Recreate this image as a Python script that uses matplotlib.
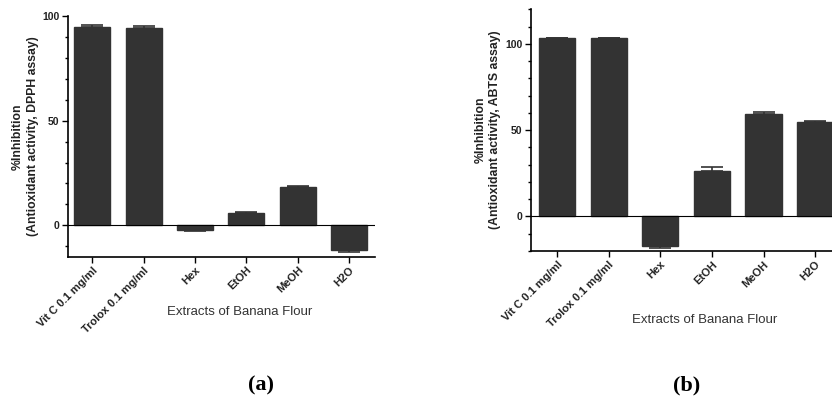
import matplotlib.pyplot as plt
import numpy as np

plt.rcParams['font.family'] = ['Liberation Sans', 'DejaVu Sans']

# Data
categories = ['Vit C 0.1 mg/ml', 'Trolox 0.1 mg/ml', 'Hex', 'EtOH', 'MeOH', 'H2O']
dpph_values = [94.9, 94.3, -2.1, 5.9, 18.2, -12.0]
dpph_err = [0.8, 0.8, 0.4, 0.3, 0.8, 0.7]
abts_values = [103.3, 103.3, -17.2, 26.4, 59.1, 54.9]
abts_err = [0.3, 0.3, 1.1, 2.3, 1.2, 0.3]
dpph_ylabel = '%Inhibition\n(Antioxidant activity, DPPH assay)'
abts_ylabel = '%Inhibition\n(Antioxidant activity, ABTS assay)'
xlabel = 'Extracts of Banana Flour'

bar_color = '#333333'

fig = plt.figure(figsize=(8.32, 3.99), dpi=100)
ax_a = fig.add_axes([68 / 832, 1 - 256.7 / 399, 307 / 832, 240.7 / 399])
ax_b = fig.add_axes([530.7 / 832, 1 - 251 / 399, 310.3 / 832, 241.7 / 399])


def draw_panel(ax, values, errs, ylabel, ylim, xlim, yticks):
    x = np.arange(len(categories))
    ax.bar(x, values, width=0.7, color=bar_color, edgecolor=bar_color, zorder=2)
    # error bars drawn only away from zero, as in Prism
    for xi, v, e in zip(x, values, errs):
        yerr = [[0], [e]] if v >= 0 else [[e], [0]]
        ax.errorbar(xi, v, yerr=yerr, fmt='none', ecolor=bar_color, elinewidth=1.2,
                    capsize=8, capthick=1.2, zorder=3)
    ax.axhline(0, color='black', lw=0.8, zorder=4)
    ax.set_xlim(*xlim)
    ax.set_ylim(*ylim)
    ax.set_yticks(yticks)
    ax.set_yticks(np.arange(ylim[0] + 5 if ylim[0] % 10 else ylim[0], ylim[1] + 1, 10), minor=True)
    ax.set_yticklabels([str(t) for t in yticks], fontsize=7.5, fontweight='bold', color='#222222')
    ax.set_xticks(x)
    ax.set_xticklabels(categories, rotation=45, ha='right', rotation_mode='anchor',
                       fontsize=8, fontweight='bold', color='#222222')
    ax.tick_params(axis='x', length=4, width=1, pad=2)
    ax.tick_params(axis='y', which='major', length=4, width=1, pad=2)
    ax.tick_params(axis='y', which='minor', length=2.5, width=1)
    for side in ['top', 'right']:
        ax.spines[side].set_visible(False)
    for side in ['left', 'bottom']:
        ax.spines[side].set_linewidth(1.2)
    ax.set_ylabel(ylabel, fontsize=8.8, fontweight='bold', color='#222222', linespacing=1.3)
    ax.yaxis.set_label_coords(-0.095, 0.5)
    ax.set_xlabel(xlabel, fontsize=9.5, color='#333333')


draw_panel(ax_a, dpph_values, dpph_err, dpph_ylabel, (-15, 100), (-0.47, 5.5), [0, 50, 100])
ax_a.xaxis.set_label_coords(0.56, -0.205)
draw_panel(ax_b, abts_values, abts_err, abts_ylabel, (-20, 120), (-0.51, 5.5), [0, 50, 100])
ax_b.xaxis.set_label_coords(0.562, -0.26)

fig.text(261 / 832, 1 - 385 / 399, '(a)', fontsize=16, fontweight='bold',
         family='Liberation Serif', ha='center', va='center')
fig.text(687 / 832, 1 - 385 / 399, '(b)', fontsize=16, fontweight='bold',
         family='Liberation Serif', ha='center', va='center')

fig.savefig('out.png', dpi=100)
